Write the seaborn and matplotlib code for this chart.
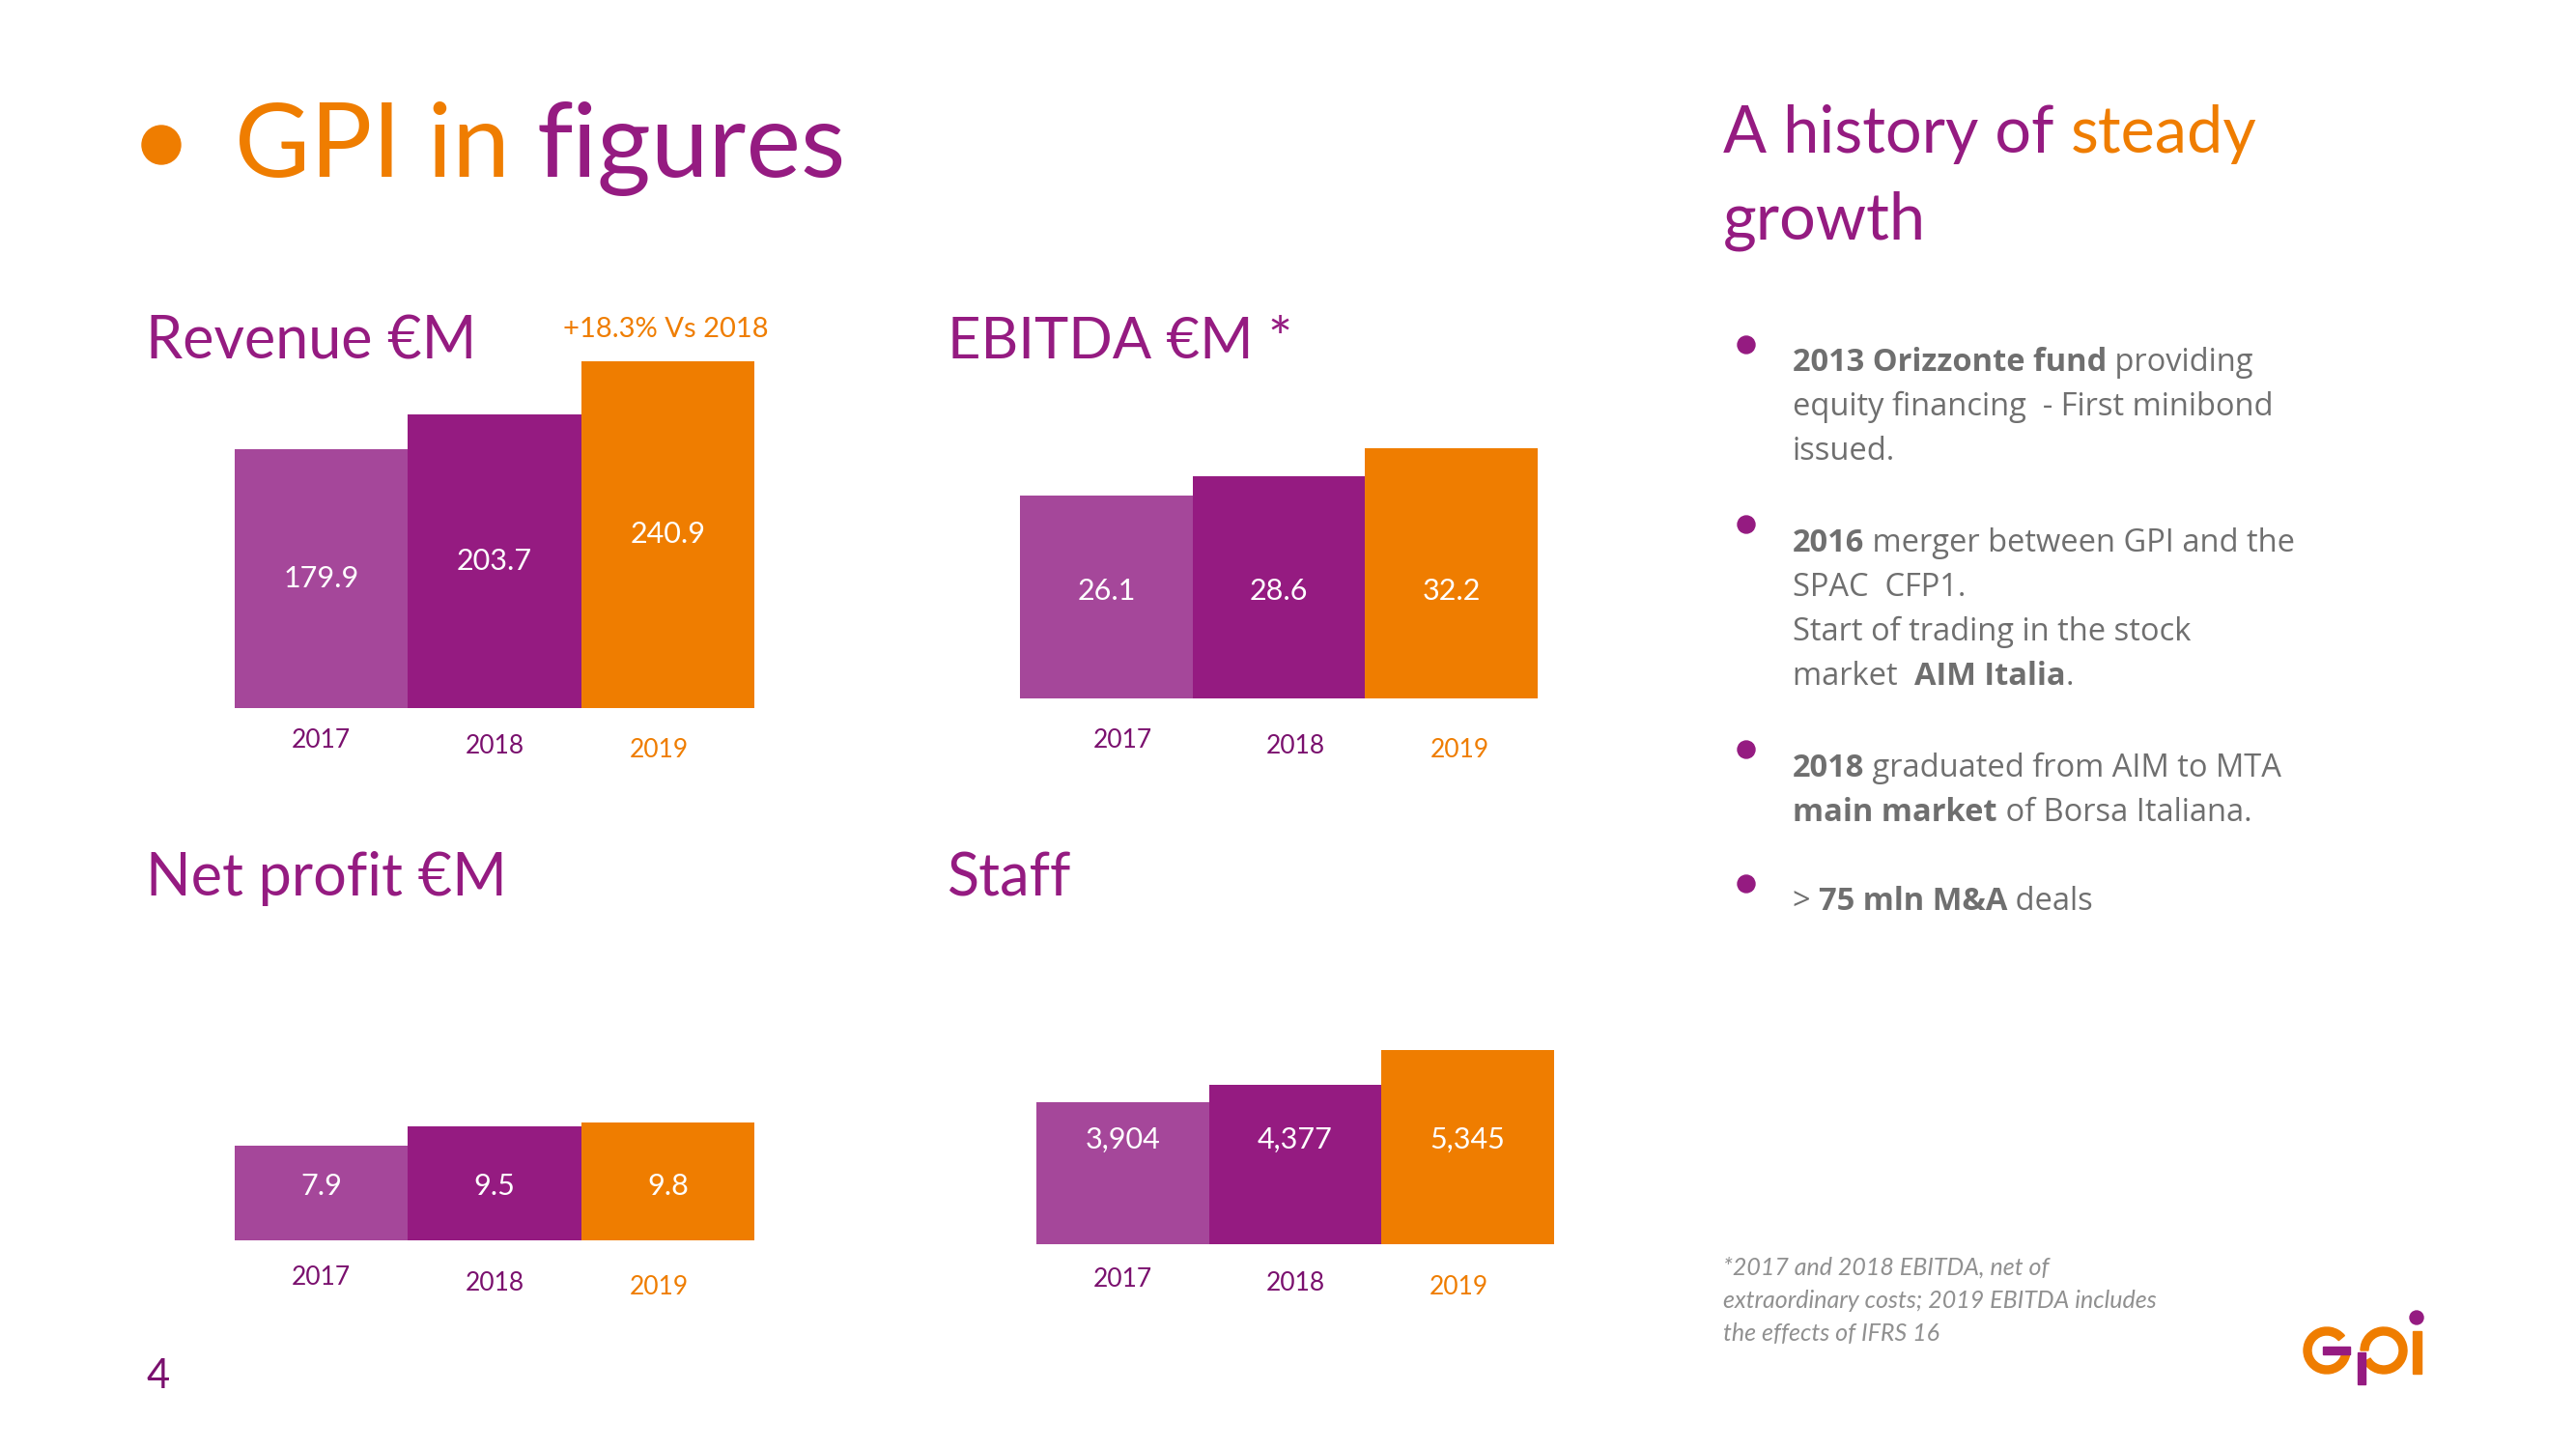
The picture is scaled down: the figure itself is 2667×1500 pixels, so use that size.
import matplotlib
matplotlib.use('Agg')
import matplotlib.pyplot as plt
from matplotlib.patches import Circle, Rectangle, Wedge
import seaborn as sns

# data
years = ['2017', '2018', '2019']
revenue = [179.9, 203.7, 240.9]
ebitda = [26.1, 28.6, 32.2]
net_profit = [7.9, 9.5, 9.8]
staff = [3904, 4377, 5345]

ORANGE = '#EF7D00'
PURPLE = '#951B81'
LIGHT_PURPLE = '#A5479A'
DARK_PURPLE = '#7A106E'
GREY = '#6F6F6F'
bar_colors = [LIGHT_PURPLE, PURPLE, ORANGE]
year_colors = [DARK_PURPLE, DARK_PURPLE, ORANGE]

sns.set_style('white')
plt.rcParams['font.family'] = ['Lato', 'DejaVu Sans']

W, H = 2667, 1500
fig = plt.figure(figsize=(W / 100, H / 100), dpi=100)

# background axes in pixel coordinates (y downwards)
bg = fig.add_axes([0, 0, 1, 1])
bg.set_xlim(0, W)
bg.set_ylim(H, 0)
bg.axis('off')


def rich(x, y, parts, size, family='Lato', style='normal'):
    prev = None
    for text, weight, color in parts:
        kw = dict(fontsize=size, fontweight=weight, color=color, family=family,
                  style=style, ha='left', va='baseline')
        if prev is None:
            prev = bg.text(x, y, text, **kw)
        else:
            prev = bg.annotate(text, xy=(1, y), xycoords=(prev, 'data'), **kw)
    return prev


def chart(box, values, fmt, label_frac=None, year_dx=(0, 0, -9), year_dy=(34, 39, 43)):
    left, top, right, bottom = box
    ax = fig.add_axes([left / W, 1 - bottom / H, (right - left) / W, (bottom - top) / H])
    sns.barplot(x=years, y=values, hue=years, palette=bar_colors, width=1,
                saturation=1, legend=False, ax=ax, edgecolor='none', linewidth=0)
    ax.set_ylim(0, max(values))
    ax.axis('off')
    for i, v in enumerate(values):
        ly = v / 2 if label_frac is None else max(values) * label_frac
        ax.text(i, ly, fmt(v), ha='center', va='center', color='white', fontsize=22)
        ax.annotate(years[i], xy=(i, 0), xycoords='data', textcoords='offset pixels',
                    xytext=(year_dx[i], -year_dy[i]), ha='center', va='center',
                    color=year_colors[i], fontsize=19, annotation_clip=False)
    return ax


chart((243, 374, 781, 733), revenue, lambda v: f'{v:.1f}')
chart((1056, 464, 1592, 723), ebitda, lambda v: f'{v:.1f}', label_frac=0.43,
      year_dx=(17, 17, 9), year_dy=(44, 49, 53))
chart((243, 1162, 781, 1284), net_profit, lambda v: f'{v:.1f}', label_frac=0.46,
      year_dy=(39, 44, 48))
chart((1073, 1087, 1609, 1288), staff, lambda v: f'{v:,}', label_frac=0.54,
      year_dy=(36, 41, 44))

# main title
bg.add_patch(Circle((167, 150), 20, color=ORANGE))
rich(243, 183, [('GPI in ', 'normal', ORANGE), ('figures', 'normal', PURPLE)], 77)

# chart titles
bg.text(151, 371, 'Revenue €M', color=PURPLE, fontsize=44, va='baseline')
bg.text(583, 349, '+18.3% Vs 2018', color=ORANGE, fontsize=21, va='baseline')
bg.text(981, 371, 'EBITDA €M *', color=PURPLE, fontsize=43, va='baseline')
bg.text(151, 927, 'Net profit €M', color=PURPLE, fontsize=44, va='baseline')
bg.text(981, 927, 'Staff', color=PURPLE, fontsize=44, va='baseline')

# right column header
rich(1784, 158, [('A history of ', 'normal', PURPLE), ('steady', 'normal', ORANGE)], 48)
bg.text(1784, 247, 'growth', color=PURPLE, fontsize=48, va='baseline')

# bullets
bullets = [
    (357, [(384, [('2013 Orizzonte fund', 'bold'), (' providing', 'normal')]),
           (430, [('equity financing  - First minibond', 'normal')]),
           (476, [('issued.', 'normal')])]),
    (543, [(571, [('2016', 'bold'), (' merger between GPI and the', 'normal')]),
           (617, [('SPAC  CFP1.', 'normal')]),
           (663, [('Start of trading in the stock', 'normal')]),
           (709, [('market  ', 'normal'), ('AIM Italia', 'bold'), ('.', 'normal')])]),
    (776, [(804, [('2018', 'bold'), (' graduated from AIM to MTA', 'normal')]),
           (850, [('main market', 'bold'), (' of Borsa Italiana.', 'normal')])]),
    (915, [(942, [('> ', 'normal'), ('75 mln M&A', 'bold'), (' deals', 'normal')])]),
]
for dot_y, lines in bullets:
    bg.add_patch(Circle((1808, dot_y), 9, color=PURPLE))
    for ly, parts in lines:
        rich(1856, ly, [(t, w, GREY) for t, w in parts], 23.5, family='Open Sans')

# footnote
for ly, line in zip([1320, 1354, 1388], ['*2017 and 2018 EBITDA, net of',
                                          'extraordinary costs; 2019 EBITDA includes',
                                          'the effects of IFRS 16']):
    bg.text(1784, ly, line, color='#909090', fontsize=18, style='italic', va='baseline')

# page number
bg.text(151, 1437, '4', color=DARK_PURPLE, fontsize=30, va='baseline')

# logo
bg.add_patch(Wedge((2409, 1398), 24, 0, 320, width=8, color=ORANGE))
bg.add_patch(Rectangle((2405, 1394), 28, 8, color=PURPLE))
bg.add_patch(Wedge((2468, 1398), 24, 180, 150, width=8, color=ORANGE))
bg.add_patch(Rectangle((2441, 1400), 8, 33, color=PURPLE))
bg.add_patch(Rectangle((2498, 1378), 9, 44, color=ORANGE))
bg.add_patch(Circle((2502, 1364), 7, color=PURPLE))

fig.savefig('out.png', dpi=100)
